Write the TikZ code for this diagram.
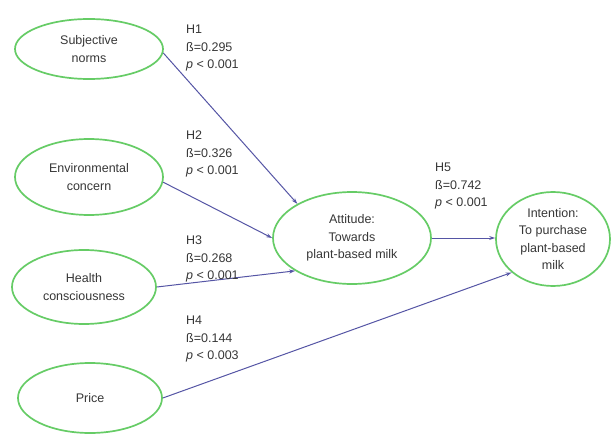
\documentclass[tikz,border=0pt]{standalone}
\usepackage{fontspec}
\setmainfont{Liberation Sans}
\usetikzlibrary{shapes.geometric,arrows.meta}
\definecolor{ellgreen}{RGB}{102,204,102}
\definecolor{arrblue}{RGB}{85,85,165}
\definecolor{txtgray}{RGB}{55,55,55}
\begin{document}
\begin{tikzpicture}[x=1pt,y=-1pt,
  construct/.style={ellipse,draw=ellgreen,line width=1.7pt,inner sep=0pt,
    text=txtgray,align=center,font=\fontsize{12.5}{17.5}\selectfont},
  path/.style={draw=arrblue,line width=1pt,-{Stealth[length=6pt,width=4pt]}},
  hyp/.style={anchor=north west,inner sep=0pt,align=left,text=txtgray,
    font=\fontsize{12.5}{17.5}\selectfont}]
\useasboundingbox[fill=white] (0,0) rectangle (611,436);
\node[construct,minimum width=148pt,minimum height=60pt] (sn) at (89,49) {Subjective\\norms};
\node[construct,minimum width=148pt,minimum height=76pt] (ec) at (89,177) {Environmental\\concern};
\node[construct,minimum width=144pt,minimum height=74pt] (hc) at (84,287) {Health\\consciousness};
\node[construct,minimum width=144pt,minimum height=70pt] (pr) at (90,398) {Price};
\node[construct,minimum width=158pt,minimum height=92pt] (att) at (352,238) {Attitude:\\Towards\\plant-based milk};
\node[construct,minimum width=114pt,minimum height=94pt] (int) at (553,239) {Intention:\\To purchase\\plant-based\\milk};
\draw[path] (sn.-3) -- (att.148.5);
\draw[path] (ec.-4) -- (att.west);
\draw[path] (hc.east) -- (att.210);
\draw[path] (pr.east) -- (int.219);
\draw[path] (att.east) -- (att.east -| int.west);
\node[hyp] (l1) at (186,25) {H1\\ß=0.295\\\textit{p} < 0.001};
\node[hyp] (l2) at (186,131) {H2\\ß=0.326\\\textit{p} < 0.001};
\node[hyp] (l3) at (186,236) {H3\\ß=0.268\\\textit{p} < 0.001};
\node[hyp] (l4) at (186,316) {H4\\ß=0.144\\\textit{p} < 0.003};
\node[hyp] (l5) at (435,163) {H5\\ß=0.742\\\textit{p} < 0.001};
\end{tikzpicture}
\end{document}
